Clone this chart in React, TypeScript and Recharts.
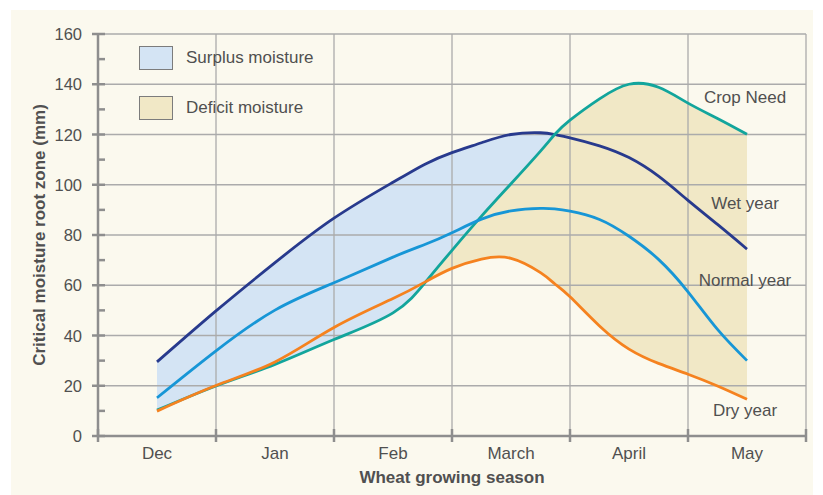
import React from 'react';
import { ComposedChart, Area, Line, XAxis, YAxis, ReferenceLine, Legend } from 'recharts';

const months = ['Dec', 'Jan', 'Feb', 'March', 'April', 'May'];

// position along the season: 0 = Dec ... 5 = May
const season = [0, 0.5, 1, 1.5, 2, 2.28, 2.5, 2.75, 3, 3.25, 3.37, 3.5, 3.75, 4, 4.25, 4.5, 4.75, 5];
const wetYear = [29.5, 49.8, 69, 86.7, 101, 108.4, 112.8, 116.7, 120, 120.7, 120, 118.7, 115.5, 110.8, 103.4, 93.8, 84.2, 74.4];
const normalYear = [15.2, 33.9, 50.1, 61, 71.2, 76.4, 80.9, 86.3, 89.6, 90.6, 90.4, 89.5, 86.2, 79.5, 70.3, 57.4, 42.4, 30];
const cropNeed = [10.3, 19.9, 28.5, 38.4, 49, 61.5, 73.9, 87.5, 100.4, 113.4, 120, 125.7, 134.2, 140, 138.8, 132.5, 126.4, 120.1];
const dryYear = [9.9, 20.1, 29.5, 43.2, 54.7, 61.5, 66.7, 70.4, 70.7, 65, 60.6, 55.4, 43.8, 34.6, 28.9, 24.6, 19.9, 14.6];

const yTicks = [0, 10, 20, 30, 40, 50, 60, 70, 80, 90, 100, 110, 120, 130, 140, 150, 160];

const surplusEnd = 3.37;   // wet year meets crop need
const deficitStart = 2.28; // crop need overtakes dry year

const data = season.map((t, i) => ({
  t,
  wet: wetYear[i],
  normal: normalYear[i],
  crop: cropNeed[i],
  dry: dryYear[i],
  surplus: t <= surplusEnd ? [cropNeed[i], wetYear[i]] : null,
  deficit: t >= deficitStart ? [dryYear[i], cropNeed[i]] : null,
}));

// month centres plus the boundaries between months
const xTicks = months.flatMap((_, i) => [i - 0.5, i]).concat(months.length - 0.5);
const boundaries = xTicks.filter((v) => !Number.isInteger(v) && v > 0);
const gridY = yTicks.filter((v) => v > 0 && v % 20 === 0);

const legendOrder = ['Surplus moisture', 'Deficit moisture'];

const FONT = '"Liberation Sans", Arial, sans-serif';
const TEXT = '#505050';
const AXIS = '#8e8e8e';
const GRID = '#ababab';
const CURVE = 'natural';

const XTick = ({ x, y, payload }: any) => {
  const v = payload.value;
  if (Number.isInteger(v)) {
    return (
      <text x={x} y={y + 11} textAnchor="middle" dominantBaseline="central" fill={TEXT} fontSize={17} fontFamily={FONT}>
        {months[v]}
      </text>
    );
  }
  return <line x1={x} x2={x} y1={y - 13} y2={y} stroke={AXIS} strokeWidth={2.5} />;
};

const YTick = ({ x, y, payload }: any) => {
  const v = payload.value;
  if (v % 20 === 0) {
    return (
      <g>
        <line x1={x + 10} x2={x + 23} y1={y} y2={y} stroke={AXIS} strokeWidth={2.5} />
        <text x={x} y={y} textAnchor="end" dominantBaseline="central" fill={TEXT} fontSize={16.5} fontFamily={FONT}>
          {v}
        </text>
      </g>
    );
  }
  return <line x1={x + 16} x2={x + 23} y1={y} y2={y} stroke={AXIS} strokeWidth={2.5} />;
};

const endLabel = (name: string, dy: number) => (props: any) => {
  if (props.index !== season.length - 1) return <g />;
  return (
    <text x={props.x - 2} y={props.y + dy} textAnchor="middle" dominantBaseline="central" fill={TEXT} fontSize={17} fontFamily={FONT}>
      {name}
    </text>
  );
};

const renderLegend = ({ payload }: any) => {
  const items = (payload || [])
    .filter((e: any) => legendOrder.includes(e.value))
    .sort((a: any, b: any) => legendOrder.indexOf(a.value) - legendOrder.indexOf(b.value));
  return (
    <div style={{ fontFamily: FONT, fontSize: 17, color: TEXT }}>
      {items.map((entry: any) => (
        <div key={entry.value} style={{ display: 'flex', alignItems: 'center', height: 24, marginBottom: 26 }}>
          <div style={{ width: 32, height: 22, background: entry.color, border: '1px solid #7c7c7c' }} />
          <span style={{ marginLeft: 13 }}>{entry.value}</span>
        </div>
      ))}
    </div>
  );
};

export default function App() {
  return (
    <div style={{ position: 'absolute', left: 0, top: 0, width: 823, height: 495, background: '#fff' }}>
      <div style={{ position: 'absolute', left: 11, top: 10, width: 802, height: 485, background: '#fbf9ee' }} />
      <div style={{ position: 'absolute', left: 0, top: 0 }}>
        <ComposedChart width={823} height={495} data={data} margin={{ top: 34, right: 17, left: 0, bottom: 0 }}>
          <XAxis
            type="number"
            dataKey="t"
            domain={[-0.5, 5.5]}
            ticks={xTicks}
            interval={0}
            height={59}
            tickSize={6}
            tickMargin={0}
            tickLine={false}
            tick={XTick}
            axisLine={{ stroke: AXIS, strokeWidth: 2.5 }}
            label={(props: any) => {
              const vb = props.viewBox;
              return (
                <text x={vb.x + vb.width / 2} y={vb.y + 41} textAnchor="middle" dominantBaseline="central" fill={TEXT} fontSize={17} fontWeight="bold" fontFamily={FONT}>
                  Wheat growing season
                </text>
              );
            }}
          />
          <YAxis
            type="number"
            domain={[0, 160]}
            ticks={yTicks}
            interval={0}
            width={98}
            tickSize={6}
            tickMargin={10}
            tickLine={false}
            tick={YTick}
            axisLine={{ stroke: AXIS, strokeWidth: 2.5 }}
            label={(props: any) => {
              const vb = props.viewBox;
              const cx = vb.x + 39;
              const cy = vb.y + vb.height / 2;
              return (
                <text x={cx} y={cy} transform={`rotate(-90 ${cx} ${cy})`} textAnchor="middle" dominantBaseline="central" fill={TEXT} fontSize={17} fontWeight="bold" fontFamily={FONT}>
                  Critical moisture root zone (mm)
                </text>
              );
            }}
          />
          <Legend
            layout="vertical"
            align="center"
            verticalAlign="middle"
            content={renderLegend}
            wrapperStyle={{ left: 139, top: 46, width: 220 }}
          />
          <Area dataKey="surplus" name="Surplus moisture" type={CURVE} fill="#d4e4f4" fillOpacity={1} stroke="none" isAnimationActive={false} />
          <Area dataKey="deficit" name="Deficit moisture" type={CURVE} fill="#f1e8c6" fillOpacity={1} stroke="none" isAnimationActive={false} />
          {gridY.map((v) => (
            <ReferenceLine key={'h' + v} y={v} stroke={GRID} strokeWidth={1.3} />
          ))}
          {boundaries.map((v) => (
            <ReferenceLine key={'v' + v} x={v} stroke={GRID} strokeWidth={1.3} />
          ))}
          <Line dataKey="wet" name="Wet year" type={CURVE} stroke="#283a8d" strokeWidth={2.8} dot={false} legendType="none" isAnimationActive={false} label={endLabel('Wet year', -46)} />
          <Line dataKey="crop" name="Crop Need" type={CURVE} stroke="#12a59c" strokeWidth={2.8} dot={false} legendType="none" isAnimationActive={false} label={endLabel('Crop Need', -37)} />
          <Line dataKey="normal" name="Normal year" type={CURVE} stroke="#1796d6" strokeWidth={2.8} dot={false} legendType="none" isAnimationActive={false} label={endLabel('Normal year', -80)} />
          <Line dataKey="dry" name="Dry year" type={CURVE} stroke="#f5821f" strokeWidth={2.8} dot={false} legendType="none" isAnimationActive={false} label={endLabel('Dry year', 11)} />
        </ComposedChart>
      </div>
    </div>
  );
}
